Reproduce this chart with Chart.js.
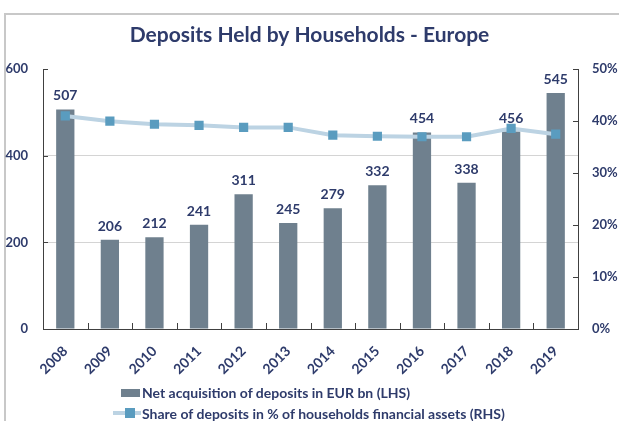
<!DOCTYPE html>
<html>
<head>
<meta charset="utf-8">
<script src="https://cdn.jsdelivr.net/npm/chart.js@4"></script>
<style>
  html, body { margin: 0; padding: 0; background: #fff; overflow: hidden; }
  #wrap { position: relative; width: 619px; height: 421px; }
  #frame { position: absolute; left: 4px; top: 13px; width: 700px; height: 500px; border: 2px solid #c8c8c8; box-sizing: border-box; }
  #c { position: absolute; left: 0; top: 0; }
  .leg { position: absolute; font-family: Lato, sans-serif; font-weight: bold; font-size: 14px; color: #2e3b6b; white-space: nowrap; line-height: 16px; }
  .box { position: absolute; background: #6f808e; }
  .ln { position: absolute; background: #bcd3e3; }
  .mk { position: absolute; background: #5a9cbf; }
</style>
</head>
<body>
<div id="wrap">
  <div id="frame"></div>
  <canvas id="c" width="619" height="421"></canvas>
  <div class="box" style="left:121px;top:389px;width:19px;height:8px;"></div>
  <div class="leg" style="left:142px;top:385px;">Net acquisition of deposits in EUR bn (LHS)</div>
  <div class="ln" style="left:113px;top:411px;width:28px;height:4px;"></div>
  <div class="mk" style="left:125px;top:408px;width:10px;height:10px;"></div>
  <div class="leg" style="left:142px;top:406px;">Share of deposits in % of households financial assets (RHS)</div>
</div>
<script>
const years = ['2008','2009','2010','2011','2012','2013','2014','2015','2016','2017','2018','2019'];
const depositsEURbn = [507, 206, 212, 241, 311, 245, 279, 332, 454, 338, 456, 545];
const shareOfAssetsPct = [41.0, 40.0, 39.4, 39.2, 38.8, 38.8, 37.3, 37.1, 37.0, 37.0, 38.6, 37.5];
const leftTicks = [0, 200, 400, 600];
const rightTicks = [0, 10, 20, 30, 40, 50];

const NAVY = '#2e3b6b';
const FONT = 'Lato, sans-serif';

const barLabels = {
  id: 'barLabels',
  afterDatasetDraw(chart, args) {
    if (args.index !== 1) return;
    const ctx = chart.ctx;
    const meta = chart.getDatasetMeta(1);
    ctx.save();
    ctx.font = 'bold 14px ' + FONT;
    ctx.fillStyle = NAVY;
    ctx.textAlign = 'center';
    ctx.textBaseline = 'alphabetic';
    meta.data.forEach((el, i) => {
      ctx.fillText(String(depositsEURbn[i]), el.x, el.y - 9);
    });
    ctx.restore();
  }
};

const innerTicks = {
  id: 'innerTicks',
  afterDraw(chart) {
    const ctx = chart.ctx;
    const a = chart.chartArea;
    const yl = chart.scales.y, yr = chart.scales.y1, x = chart.scales.x;
    ctx.save();
    ctx.strokeStyle = '#404040';
    ctx.lineWidth = 1;
    ctx.beginPath();
    leftTicks.forEach(v => { const p = Math.round(yl.getPixelForValue(v)) + 0.5; ctx.moveTo(a.left, p); ctx.lineTo(a.left + 5, p); });
    rightTicks.forEach(v => { const p = Math.round(yr.getPixelForValue(v)) + 0.5; ctx.moveTo(a.right - 5, p); ctx.lineTo(a.right, p); });
    for (let i = 1; i < years.length; i++) {
      const p = Math.round((x.getPixelForValue(i - 1) + x.getPixelForValue(i)) / 2) + 0.5;
      ctx.moveTo(p, a.bottom); ctx.lineTo(p, a.bottom - 6);
    }
    ctx.stroke();
    ctx.restore();
  }
};

new Chart(document.getElementById('c'), {
  data: {
    labels: years,
    datasets: [
      {
        type: 'line',
        label: 'Share of deposits in % of households financial assets (RHS)',
        data: shareOfAssetsPct,
        yAxisID: 'y1',
        borderColor: '#bcd3e3',
        borderWidth: 4,
        backgroundColor: '#5a9cbf',
        pointStyle: 'rect',
        pointRadius: 6.5,
        pointBorderWidth: 0,
        pointBackgroundColor: '#5a9cbf',
        tension: 0,
        order: 0
      },
      {
        type: 'bar',
        label: 'Net acquisition of deposits in EUR bn (LHS)',
        data: depositsEURbn,
        yAxisID: 'y',
        backgroundColor: '#6f808e',
        categoryPercentage: 1,
        barPercentage: 0.41,
        order: 1
      }
    ]
  },
  options: {
    responsive: false,
    animation: false,
    layout: { padding: 0 },
    plugins: {
      legend: { display: false },
      tooltip: { enabled: false },
      title: {
        display: true,
        text: 'Deposits Held by Households - Europe',
        color: NAVY,
        font: { family: FONT, size: 21, weight: 'bold' },
        padding: { top: 23, bottom: 21 }
      }
    },
    scales: {
      x: {
        offset: true,
        grid: { display: false, drawTicks: false },
        border: { display: true, color: '#404040', width: 1 },
        ticks: { color: NAVY, font: { family: FONT, size: 14, weight: 'bold' }, minRotation: 45, maxRotation: 45, padding: 14 },
        afterFit(s) { s.height = 92; }
      },
      y: {
        position: 'left',
        min: 0, max: 600,
        afterBuildTicks(s) { s.ticks = leftTicks.map(v => ({ value: v })); },
        grid: { drawTicks: false, color: c => (c.tick && (c.tick.value === 200 || c.tick.value === 400)) ? '#d4d4d4' : 'rgba(0,0,0,0)' },
        border: { display: true, color: '#404040', width: 1 },
        ticks: { color: NAVY, font: { family: FONT, size: 13, weight: 'bold' }, padding: 15 },
        afterFit(s) { s.width = 43; }
      },
      y1: {
        position: 'right',
        min: 0, max: 50,
        afterBuildTicks(s) { s.ticks = rightTicks.map(v => ({ value: v })); },
        grid: { display: false, drawTicks: false },
        border: { display: true, color: '#404040', width: 1 },
        ticks: { color: NAVY, font: { family: FONT, size: 13, weight: 'bold' }, padding: 14, callback: v => v + '%' },
        afterFit(s) { s.width = 41; }
      }
    }
  },
  plugins: [barLabels, innerTicks]
});
</script>
</body>
</html>
